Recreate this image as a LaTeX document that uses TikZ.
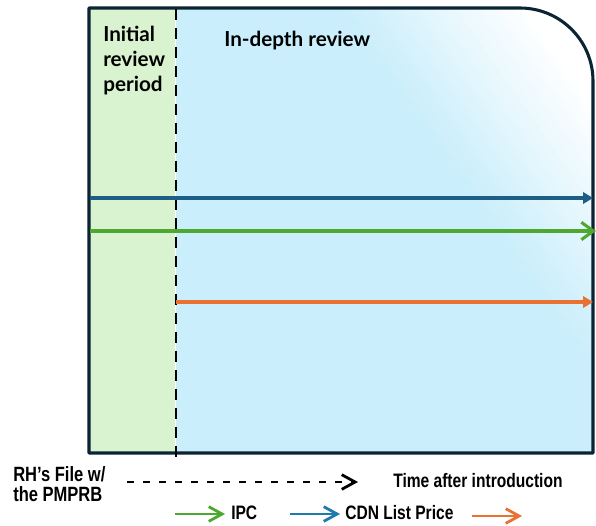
\documentclass[tikz,border=0pt]{standalone}
\usepackage{fontspec}
\setmainfont{Liberation Sans}
\newfontfamily\headfont{Lato}
\newfontfamily\narrowfont[FakeStretch=0.8]{Liberation Sans}
\usetikzlibrary{arrows.meta}

\definecolor{framecol}{HTML}{0B2433}
\definecolor{greenfill}{HTML}{D9F2D0}
\definecolor{bluefill}{HTML}{CAEEFB}
\definecolor{ipccol}{HTML}{4EA72E}
\definecolor{cdncol}{HTML}{1D5E86}
\definecolor{cdnkey}{HTML}{1F7AAE}
\definecolor{orangecol}{HTML}{E97132}

\tikzset{
  headtext/.style={inner sep=0pt, font=\headfont\bfseries\fontsize{15.5pt}{18.75pt}\selectfont, text=black},
  keytext/.style={inner sep=0pt, font=\narrowfont\bfseries\fontsize{14.6pt}{15pt}\selectfont, text=black},
  series/.style={line width=2.3pt},
  solidhead/.style={-{Triangle[length=7.5pt,width=8.5pt]}},
  openhead/.style={-{Straight Barb[length=9pt,width=13pt]}},
  keyline/.style={line width=2.1pt, -{Straight Barb[length=10pt,width=11pt]}},
}

\begin{document}
\begin{tikzpicture}[x=0.75pt,y=-0.75pt]
\useasboundingbox (0,0) rectangle (596,525);

% initial review period (green band)
\fill[greenfill] (89,8) rectangle (174.5,453);

% in-depth review area (blue), fading to white towards the rounded corner
\begin{scope}
  \clip (176,8) -- (520,8) .. controls (560.3,8) and (593,40.7) .. (593,81)
        -- (593,453) -- (176,453) -- cycle;
  \fill[bluefill] (176,0) rectangle (600,460);
  % bands along x - 0.7y = const, from light blue (s = 335) to white (s = 520)
  \foreach \i in {0,...,36} {
    \pgfmathsetmacro{\sa}{335+5*\i}
    \pgfmathsetmacro{\sb}{\sa+5.6}
    \pgfmathsetmacro{\mix}{100-100*(\i+0.5)/37}
    \fill[bluefill!\mix!white] (\sa-35,-50) -- (\sb-35,-50) -- (\sb+350,500) -- (\sa+350,500) -- cycle;
  }
  \fill[white] (520-35,-50) -- (1000,-50) -- (1000,500) -- (520+350,500) -- cycle;
\end{scope}

% frame
\draw[framecol, line width=2.3pt, line join=round]
  (89,453) -- (89,8) -- (520,8) .. controls (560.3,8) and (593,40.7) .. (593,81)
  -- (593,453) -- cycle;

% boundary between the two review phases
\coordinate (splitTop) at (176,9);
\coordinate (splitBot) at (176,457);
\draw[black, line width=2.2pt, dash pattern=on 8.25pt off 6pt] (splitTop) -- (splitBot);

% series lines
\coordinate (cdnA) at (90,198);
\coordinate (cdnB) at (593,198);
\coordinate (ipcA) at (90,231);
\coordinate (ipcB) at (596,231);
\coordinate (orA) at (176,302);
\coordinate (orB) at (593,302);
\draw[cdncol, series, solidhead] (cdnA) -- (cdnB);
\draw[ipccol, series, openhead] (ipcA) -- (ipcB);
\draw[orangecol, series, solidhead] (orA) -- (orB);

% phase labels
\node[headtext, anchor=north west, align=left] (initial) at (103,26) {Initial\\review\\period};
\node[headtext, anchor=base west] (indepth) at (224,46) {In-depth review};

% time axis key
\node[keytext, font=\narrowfont\bfseries\fontsize{15.5pt}{15pt}\selectfont, anchor=north west, align=left] (rhfile) at (13,466) {RH’s File w/\\the PMPRB};
\coordinate (timeA) at (127,482);
\coordinate (timeB) at (358,482);
\draw[black, line width=2.1pt, dash pattern=on 5.6pt off 6.4pt, -{Straight Barb[length=10pt,width=11pt]}] (timeA) -- (timeB);
\node[keytext, anchor=base west] (timelbl) at (393,487) {Time after introduction};

% series key
\coordinate (kipcA) at (175,514);
\coordinate (kipcB) at (225,514);
\draw[ipccol, keyline] (kipcA) -- (kipcB);
\node[keytext, anchor=base west] (ipclbl) at (231,519) {IPC};
\coordinate (kcdnA) at (290,514);
\coordinate (kcdnB) at (340,514);
\draw[cdnkey, keyline] (kcdnA) -- (kcdnB);
\node[keytext, anchor=base west] (cdnlbl) at (345,519) {CDN List Price};
\coordinate (korA) at (472,516);
\coordinate (korB) at (522,516);
\draw[orangecol, keyline] (korA) -- (korB);
\end{tikzpicture}
\end{document}
